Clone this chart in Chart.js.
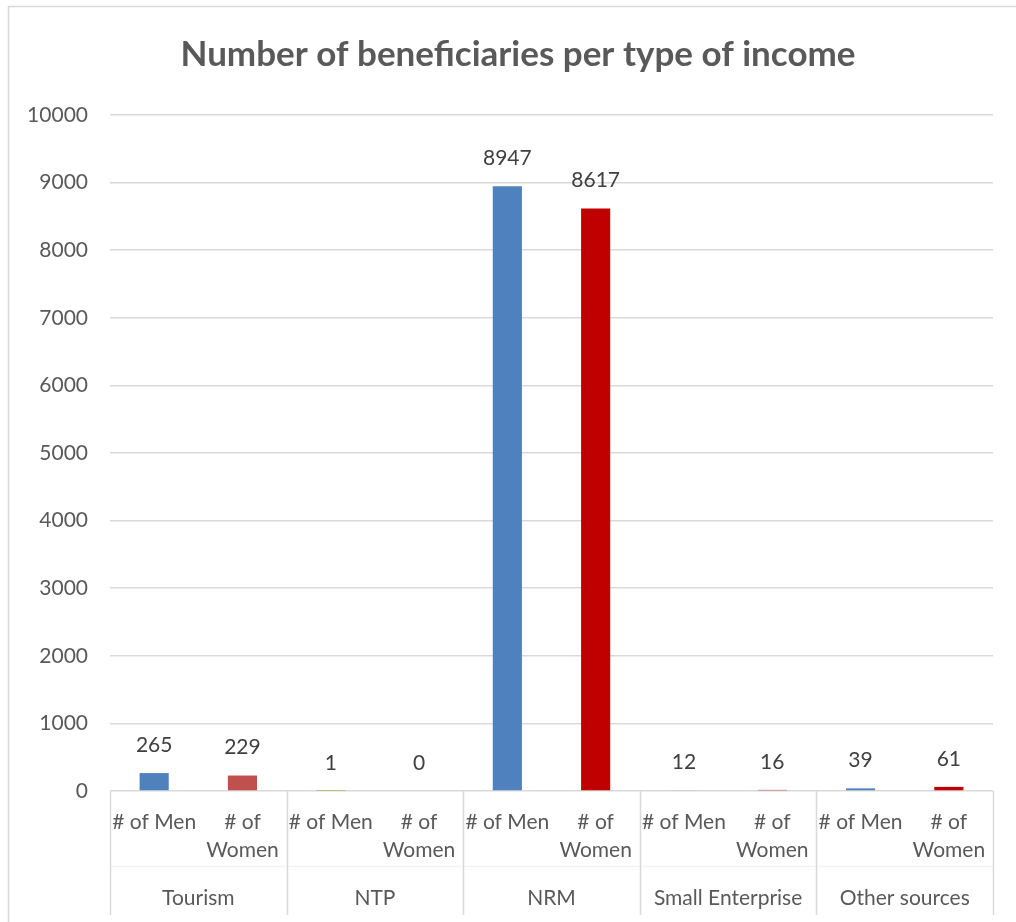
<!DOCTYPE html>
<html>
<head>
<meta charset="utf-8">
<script src="https://cdn.jsdelivr.net/npm/chart.js@4.4.0/dist/chart.umd.min.js"></script>
<style>
  html, body { margin: 0; padding: 0; background: #fff; }
  #wrap { width: 1016px; height: 922px; position: relative; }
</style>
</head>
<body>
<div id="wrap"><canvas id="grafica"></canvas></div>
<script>
// datos del grafico
const titulo = 'Number of beneficiaries per type of income';
const grupos = ['Tourism', 'NTP', 'NRM', 'Small Enterprise', 'Other sources'];
const etiquetaHombres = ['# of Men'];
const etiquetaMujeres = ['# of', 'Women'];
const hombres = [265, 1, 8947, 12, 39];
const mujeres = [229, 0, 8617, 16, 61];
const coloresHombres = ['#4F81BD', '#9BBB59', '#4F81BD', '#4F81BD', '#4F81BD'];
const coloresMujeres = ['#C0504D', '#C00000', '#C00000', '#C00000', '#C00000'];
const ejeMax = 10000;
const ejePaso = 1000;

var etiquetas = [], valores = [], colores = [];
for (let i = 0; i < grupos.length; i++) {
    etiquetas.push(etiquetaHombres, etiquetaMujeres);
    valores.push(hombres[i], mujeres[i]);
    colores.push(coloresHombres[i], coloresMujeres[i]);
}

const gris = '#595959';
const lineaGris = '#D9D9D9';
const fuente = 'Lato';

// marco, titulo, separadores del eje y nombres de grupo
const extras = {
    id: 'extras',
    beforeDraw(chart) {
        const ctx = chart.ctx;
        ctx.save();
        ctx.strokeStyle = lineaGris;
        ctx.lineWidth = 1.5;
        ctx.strokeRect(8.5, 6.5, 1200, 1200);
        ctx.fillStyle = gris;
        ctx.font = 'bold 35px ' + fuente;
        ctx.textAlign = 'center';
        ctx.textBaseline = 'middle';
        ctx.fillText(titulo, 518, 55);
        ctx.restore();
    },
    afterDraw(chart) {
        const ctx = chart.ctx;
        const x = chart.scales.x;
        const area = chart.chartArea;
        const abajo = 915;
        ctx.save();
        ctx.lineWidth = 1.5;
        // linea tenue entre niveles
        ctx.beginPath();
        ctx.strokeStyle = '#F2F2F2';
        ctx.moveTo(area.left, 866.5);
        ctx.lineTo(area.right, 866.5);
        ctx.stroke();
        ctx.strokeStyle = lineaGris;
        for (let i = 0; i <= grupos.length; i++) {
            let px;
            if (i === 0) px = area.left;
            else if (i === grupos.length) px = area.right;
            else px = (x.getPixelForValue(i * 2 - 1) + x.getPixelForValue(i * 2)) / 2;
            px = Math.round(px) + 0.5;
            ctx.beginPath();
            ctx.moveTo(px, area.bottom);
            ctx.lineTo(px, abajo);
            ctx.stroke();
        }
        ctx.fillStyle = gris;
        ctx.font = '21px ' + fuente;
        ctx.textAlign = 'center';
        ctx.textBaseline = 'middle';
        for (let i = 0; i < grupos.length; i++) {
            const cx = (x.getPixelForValue(i * 2) + x.getPixelForValue(i * 2 + 1)) / 2;
            ctx.fillText(grupos[i], cx, 898);
        }
        ctx.restore();
    },
    afterDatasetsDraw(chart) {
        const ctx = chart.ctx;
        const meta = chart.getDatasetMeta(0);
        ctx.save();
        ctx.fillStyle = '#404040';
        ctx.font = '21px ' + fuente;
        ctx.textAlign = 'center';
        ctx.textBaseline = 'middle';
        meta.data.forEach((barra, i) => {
            ctx.fillText(String(valores[i]), barra.x, barra.y - 28);
        });
        ctx.restore();
    }
};

var ctx = document.getElementById('grafica').getContext('2d');
var grafica = new Chart(ctx, {
    type: 'bar',
    data: {
        labels: etiquetas,
        datasets: [{
            label: 'Beneficiaries',
            data: valores,
            backgroundColor: colores,
            borderWidth: 0,
            categoryPercentage: 1,
            barPercentage: 0.33
        }]
    },
    options: {
        responsive: true,
        maintainAspectRatio: false,
        animation: false,
        layout: { padding: { left: 8, right: 23, top: 115, bottom: 0 } },
        plugins: {
            legend: { display: false },
            tooltip: { enabled: false },
            title: { display: false }
        },
        scales: {
            x: {
                grid: { display: false, drawTicks: false },
                border: { display: false },
                ticks: {
                    color: gris,
                    font: { family: fuente, size: 21, lineHeight: 1.35 },
                    padding: 17,
                    maxRotation: 0,
                    autoSkip: false
                },
                afterFit(s) { s.height = 131; }
            },
            y: {
                min: 0,
                max: ejeMax,
                grid: { color: lineaGris, lineWidth: 1.5, drawTicks: false },
                border: { display: false },
                ticks: {
                    stepSize: ejePaso,
                    color: gris,
                    font: { family: fuente, size: 21 },
                    padding: 22,
                    callback: v => String(v)
                },
                afterFit(s) { s.width = 102; }
            }
        }
    },
    plugins: [extras]
});
</script>
</body>
</html>
